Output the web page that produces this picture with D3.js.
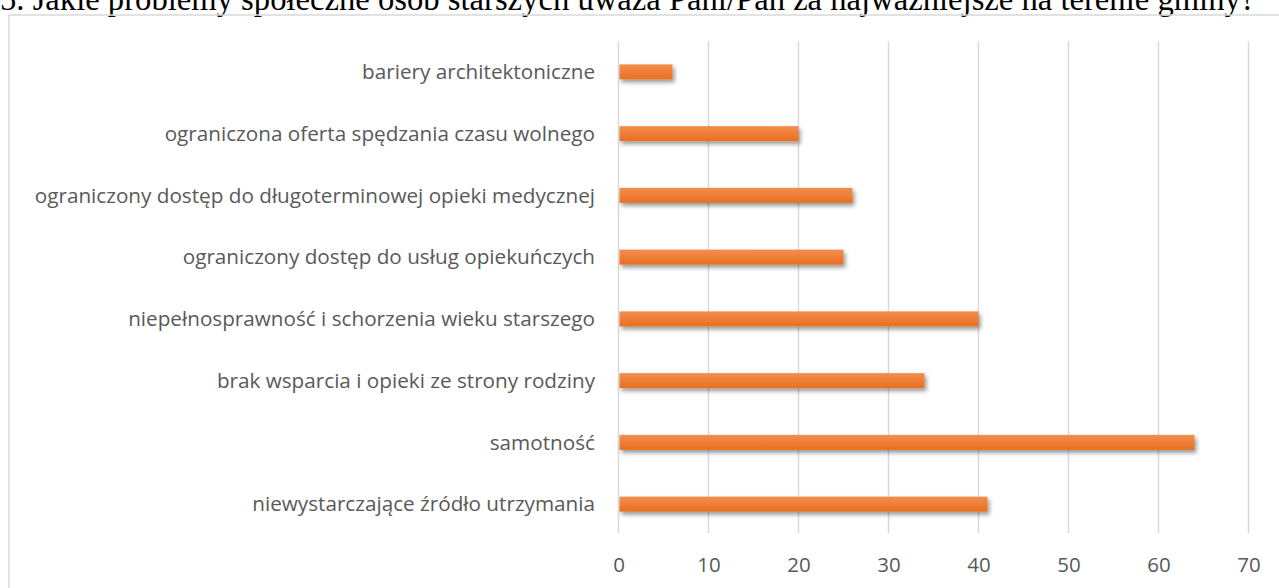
<!DOCTYPE html>
<html>
<head>
<meta charset="utf-8">
<script src="https://cdn.jsdelivr.net/npm/d3@7"></script>
<style>
  body { margin: 0; background: #fff; }
  svg { display: block; }
</style>
</head>
<body>
<svg width="1279" height="588"></svg>
<script>
// dane wykresu
var title = "5. Jakie problemy społeczne osób starszych uważa Pani/Pan za najważniejsze na terenie gminy?";

var categories = [
  "bariery architektoniczne",
  "ograniczona oferta spędzania czasu wolnego",
  "ograniczony dostęp do długoterminowej opieki medycznej",
  "ograniczony dostęp do usług opiekuńczych",
  "niepełnosprawność i schorzenia wieku starszego",
  "brak wsparcia i opieki ze strony rodziny",
  "samotność",
  "niewystarczające źródło utrzymania"
];

var values = [6, 20, 26, 25, 40, 34, 64, 41];

var tickValues = [0, 10, 20, 30, 40, 50, 60, 70];

var svg = d3.select("svg");

// gradient + cien dla slupkow
var defs = svg.append("defs");
var grad = defs.append("linearGradient")
  .attr("id", "barGrad")
  .attr("x1", 0).attr("y1", 0).attr("x2", 0).attr("y2", 1);
grad.append("stop").attr("offset", "0%").attr("stop-color", "#f38e4e");
grad.append("stop").attr("offset", "100%").attr("stop-color", "#e86f1f");

var shadow = defs.append("filter")
  .attr("id", "shadow")
  .attr("x", "-10%").attr("y", "-50%")
  .attr("width", "130%").attr("height", "250%");
shadow.append("feDropShadow")
  .attr("dx", 2).attr("dy", 3)
  .attr("stdDeviation", 2.2)
  .attr("flood-color", "#000")
  .attr("flood-opacity", 0.4);

// tytul (przyciety u gory, tak jak na oryginale)
var titleText = svg.append("text")
  .attr("x", 0)
  .attr("y", 10)
  .attr("font-family", "'Liberation Serif', 'Times New Roman', serif")
  .attr("font-size", 100)
  .attr("fill", "#000")
  .text(title);
var w100 = titleText.node().getComputedTextLength();
titleText.attr("font-size", 100 * 1256 / w100);

// ramka wykresu
svg.append("rect")
  .attr("x", 9)
  .attr("y", 15)
  .attr("width", 1400)
  .attr("height", 700)
  .attr("fill", "none")
  .attr("stroke", "#d9d9d9")
  .attr("stroke-width", 1.5);

var x = d3.scaleLinear().domain([0, 70]).range([618.5, 1248.5]);
var y = d3.scaleBand().domain(categories).range([41, 535])
  .paddingInner(0.757).paddingOuter(0.757 / 2);

// linie siatki
svg.append("g")
  .selectAll("line")
  .data(tickValues)
  .enter()
  .append("line")
  .attr("x1", function(d) { return x(d); })
  .attr("x2", function(d) { return x(d); })
  .attr("y1", 41)
  .attr("y2", 533)
  .attr("stroke", "#d9d9d9")
  .attr("stroke-width", 1.5);

// os x
var xAxis = svg.append("g")
  .attr("transform", "translate(0,565)")
  .call(d3.axisBottom(x).tickValues(tickValues).tickSize(0).tickPadding(0));
xAxis.select(".domain").remove();
xAxis.selectAll("text")
  .attr("dy", "0.35em")
  .attr("y", 0)
  .attr("font-family", "'Open Sans', sans-serif")
  .attr("font-size", 20.5)
  .attr("fill", "#595959");

// slupki
svg.append("g")
  .selectAll("rect")
  .data(categories)
  .enter()
  .append("rect")
  .attr("x", x(0) + 1)
  .attr("y", function(d) { return y(d); })
  .attr("width", function(d, i) { return x(values[i]) - x(0) - 1; })
  .attr("height", y.bandwidth())
  .attr("fill", "url(#barGrad)")
  .attr("filter", "url(#shadow)");

// etykiety kategorii
svg.append("g")
  .selectAll("text")
  .data(categories)
  .enter()
  .append("text")
  .attr("x", 595)
  .attr("y", function(d) { return y(d) + y.bandwidth() / 2; })
  .attr("dy", "0.35em")
  .attr("text-anchor", "end")
  .attr("font-family", "'Open Sans', sans-serif")
  .attr("font-size", 20.7)
  .attr("fill", "#595959")
  .text(function(d) { return d; });
</script>
</body>
</html>
